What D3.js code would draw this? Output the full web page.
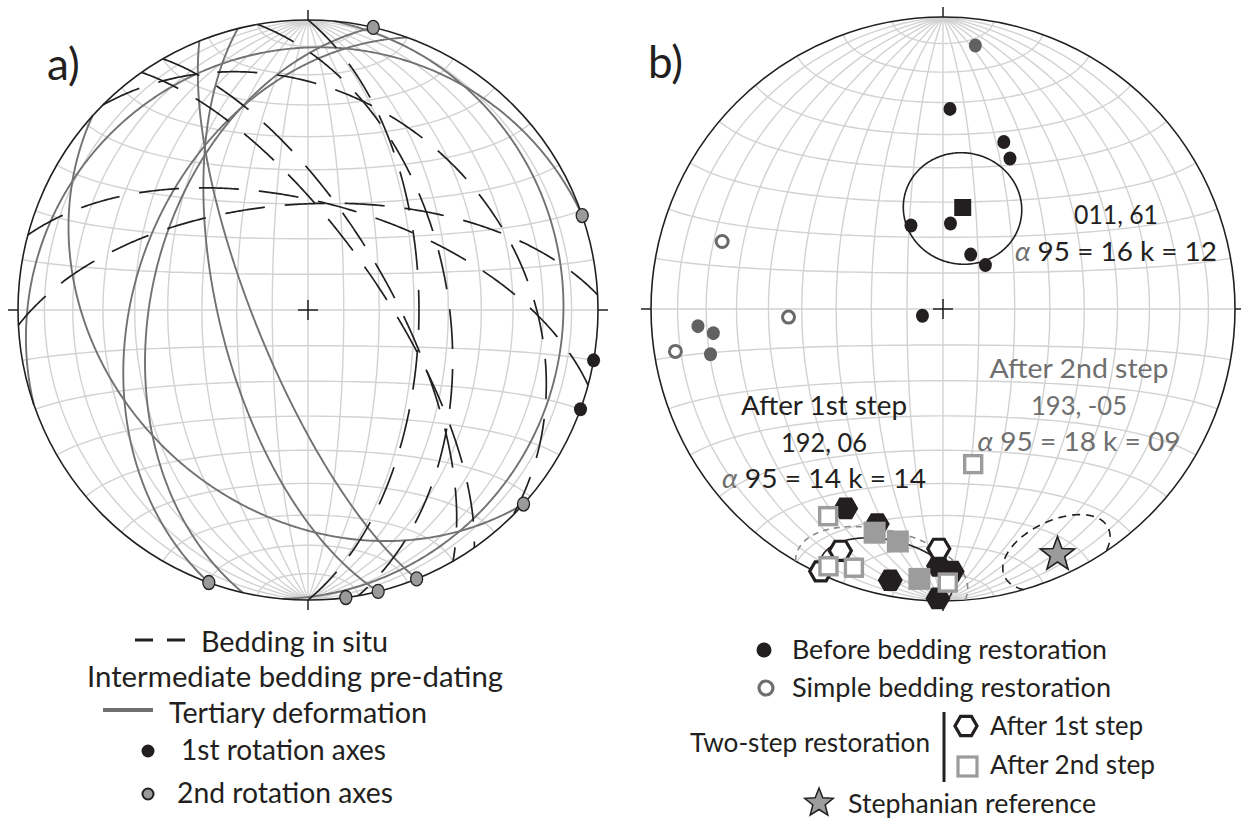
<!DOCTYPE html>
<html><head><meta charset="utf-8">
<script src="https://cdn.jsdelivr.net/npm/d3@7"></script>
<style>body{margin:0;background:#fff} svg{display:block} text{font-family:Lato,"Open Sans",sans-serif;fill:#231f20}</style>
</head><body>
<svg id="c" width="1241" height="818"></svg>
<script>
// ================= DATA =================
// Panel a — bedding in situ (dip direction, dip)
const beddingDipDir = [55, 60, 45, 15, 357, 90, 80];
const beddingDip    = [70, 67, 30, 59.5, 60, 58.6, 50];
// Panel a — intermediate bedding pre-dating Tertiary deformation (dip direction, dip)
const interDipDir = [341, 222, 290, 283, 256, 248, 95];
const interDip    = [11, 32, 40, 45, 65, 75, 13];
// Panel a — rotation axes (trend, horizontal)
const rot1Trend = [100, 110];
const rot2Trend = [13, 71, 132, 158, 166, 172.5, 200];

// Panel b — ChRM directions (declination, inclination)
const beforeDec = [2, 20, 24, 5, 339, 27, 44, 252];
const beforeInc = [32, 39, 43, 66, 65, 73, 73, 84];
const simpleDec = [7, 266, 264, 259, 287, 267, 261];
const simpleInc = [10, 17, 22, 20, -22, -46, -8];
const step1Dec = [206, 197, 191, 181, 178, 181, 203, 205, 181];
const step1Inc = [25, 24, 6, 13, 11, 1, -11, -1, -19];
const step2Dec = [197, 191, 185, 209, 204, 199, 179, 169];
const step2Inc = [21, 20, 8, -20, -4, -7, -7, -45];
// Means: [dec, inc, alpha95]
const meanBefore = [11, 61, 16];
const meanStep1  = [192, 6, 14];
const meanStep2  = [193, -5, 18];
const stephanian = [155, 8, 12];

// Legend labels
const legendA = ["Bedding in situ", "Intermediate bedding pre-dating", "Tertiary deformation", "1st rotation axes", "2nd rotation axes"];
const legendB = ["Before bedding restoration", "Simple bedding restoration", "Two-step restoration", "After 1st step", "After 2nd step", "Stephanian reference"];

// ================= HELPERS =================
const svg = d3.select("#c");
const rad = Math.PI / 180, deg = 180 / Math.PI;
function vecToGeo(e, n, d) {
  return [Math.atan2(e, d) * deg, Math.asin(Math.max(-1, Math.min(1, n))) * deg];
}
function dirGeo(trend, plunge) {
  const t = trend * rad, p = Math.abs(plunge) * rad;
  return vecToGeo(Math.cos(p) * Math.sin(t), Math.cos(p) * Math.cos(t), Math.sin(p));
}
function planeLine(dd, dip) {
  const sT = (dd - 90) * rad, dT = dd * rad, dp = dip * rad;
  const s = [Math.sin(sT), Math.cos(sT), 0];
  const dv = [Math.cos(dp) * Math.sin(dT), Math.cos(dp) * Math.cos(dT), Math.sin(dp)];
  const pts = [];
  for (let a = 0; a <= 180; a += 0.5) {
    const c = Math.cos(a * rad), sn = Math.sin(a * rad);
    pts.push(vecToGeo(c * s[0] + sn * dv[0], c * s[1] + sn * dv[1], c * s[2] + sn * dv[2]));
  }
  return {type: "LineString", coordinates: pts};
}
function coneLine(dec, inc, a95) {
  const ring = d3.geoCircle().center(dirGeo(dec, inc)).radius(a95).precision(1)().coordinates[0];
  return {type: "LineString", coordinates: ring};
}
function makeNet(g, cx, cy, R) {
  const projClip = d3.geoAzimuthalEqualArea().scale(R / Math.SQRT2).translate([cx, cy]).rotate([0, 0]).clipAngle(90).precision(0.1);
  const proj = d3.geoAzimuthalEqualArea().scale(R / Math.SQRT2).translate([cx, cy]).rotate([0, 0]).precision(0.1);
  const grat = d3.geoGraticule().extent([[-180, -90], [180, 90]]).step([10, 10]);
  g.append("path").datum(grat()).attr("d", d3.geoPath(projClip))
    .attr("fill", "none").attr("stroke", "#d2d2d2").attr("stroke-width", 1.4);
  return {projClip, proj, pathClip: d3.geoPath(projClip), path: d3.geoPath(proj), cx, cy, R};
}
function frame(g, net) {
  const {cx, cy, R} = net;
  g.append("circle").attr("cx", cx).attr("cy", cy).attr("r", R)
    .attr("fill", "none").attr("stroke", "#231f20").attr("stroke-width", 1.6);
  const t = 10;
  const segs = [[cx - 10, cy, cx + 10, cy], [cx, cy - 10, cx, cy + 10],
    [cx, cy - R - t, cx, cy - R], [cx, cy + R, cx, cy + R + t],
    [cx - R - t, cy, cx - R, cy], [cx + R, cy, cx + R + t, cy]];
  g.selectAll(null).data(segs).enter().append("line")
    .attr("x1", d => d[0]).attr("y1", d => d[1]).attr("x2", d => d[2]).attr("y2", d => d[3])
    .attr("stroke", "#231f20").attr("stroke-width", 1.5);
}
function hexPath(r) {
  return d3.range(6).map(i => [r * Math.cos(i * Math.PI / 3), r * Math.sin(i * Math.PI / 3)])
    .map((p, i) => (i ? "L" : "M") + p[0].toFixed(2) + "," + p[1].toFixed(2)).join("") + "Z";
}
function starPath(ro, ri) {
  return d3.range(10).map(i => {
    const r = i % 2 ? ri : ro, a = -Math.PI / 2 + i * Math.PI / 5;
    return [r * Math.cos(a), r * Math.sin(a)];
  }).map((p, i) => (i ? "L" : "M") + p[0].toFixed(2) + "," + p[1].toFixed(2)).join("") + "Z";
}
function txt(g, x, y, s, size, len, anchor) {
  const t = g.append("text").attr("x", x).attr("y", y).attr("font-size", size).text(s);
  if (anchor) t.attr("text-anchor", anchor);
  if (len) t.attr("textLength", len).attr("lengthAdjust", "spacingAndGlyphs");
  return t;
}

// ================= PANEL A =================
const gA = svg.append("g");
const netA = makeNet(gA, 308, 310, 290);
interDipDir.forEach((dd, i) => {
  gA.append("path").datum(planeLine(dd, interDip[i])).attr("d", netA.path)
    .attr("fill", "none").attr("stroke", "#727272").attr("stroke-width", 1.9);
});
beddingDipDir.forEach((dd, i) => {
  gA.append("path").datum(planeLine(dd, beddingDip[i])).attr("d", netA.path)
    .attr("fill", "none").attr("stroke", "#231f20").attr("stroke-width", 1.7)
    .attr("stroke-dasharray", "40,20");
});
frame(gA, netA);
rot2Trend.forEach(t => {
  const p = netA.proj(dirGeo(t, 0));
  gA.append("ellipse").attr("cx", p[0]).attr("cy", p[1]).attr("rx", 6).attr("ry", 7)
    .attr("fill", "#9a9a9a").attr("stroke", "#231f20").attr("stroke-width", 1.3);
});
rot1Trend.forEach(t => {
  const p = netA.proj(dirGeo(t, 0));
  gA.append("ellipse").attr("cx", p[0]).attr("cy", p[1]).attr("rx", 6.5).attr("ry", 7)
    .attr("fill", "#231f20");
});
txt(svg, 47, 80, "a)", 44);

// ================= PANEL B =================
const gB = svg.append("g");
const netB = makeNet(gB, 943, 309, 292);
frame(gB, netB);

function statLabel(x, y, lines, color) {
  lines.forEach((ln, i) => {
    const tx = gB.append("text").attr("x", x).attr("y", y + i * 36.5).attr("font-size", 27.5)
      .attr("text-anchor", "middle").style("fill", color)
      .attr("textLength", ln.len).attr("lengthAdjust", "spacingAndGlyphs");
    if (ln.alpha) {
      tx.append("tspan").attr("font-style", "italic").style("fill", "#6f6f6f").text("α");
      tx.append("tspan").text(" " + ln.text);
    } else tx.text(ln.text);
  });
}
statLabel(1116, 224, [{text: "011, 61", len: 84}, {alpha: true, text: "95 = 16 k = 12", len: 202}], "#231f20");
statLabel(824, 415, [{text: "After 1st step", len: 166}, {text: "192, 06", len: 86}, {alpha: true, text: "95 = 14 k = 14", len: 204}], "#231f20");
statLabel(1079, 378, [{text: "After 2nd step", len: 179}, {text: "193, -05", len: 96}, {alpha: true, text: "95 = 18 k = 09", len: 203}], "#6f6f6f");

// confidence cones
gB.append("path").datum(coneLine(...meanBefore)).attr("d", netB.pathClip)
  .attr("fill", "none").attr("stroke", "#231f20").attr("stroke-width", 1.6);
gB.append("path").datum(coneLine(...meanStep1)).attr("d", netB.pathClip)
  .attr("fill", "none").attr("stroke", "#231f20").attr("stroke-width", 1.6);
gB.append("path").datum(coneLine(...meanStep2)).attr("d", netB.pathClip)
  .attr("fill", "none").attr("stroke", "#8a8a8a").attr("stroke-width", 1.6).attr("stroke-dasharray", "6,5");
gB.append("path").datum(coneLine(...stephanian)).attr("d", netB.pathClip)
  .attr("fill", "none").attr("stroke", "#231f20").attr("stroke-width", 1.6).attr("stroke-dasharray", "8,6");

// before bedding restoration
beforeDec.forEach((d, i) => {
  const p = netB.proj(dirGeo(d, beforeInc[i]));
  gB.append("ellipse").attr("cx", p[0]).attr("cy", p[1]).attr("rx", 6.5).attr("ry", 7).attr("fill", "#231f20");
});
{
  const p = netB.proj(dirGeo(meanBefore[0], meanBefore[1]));
  gB.append("rect").attr("x", p[0] - 8.5).attr("y", p[1] - 8.5).attr("width", 17).attr("height", 17).attr("fill", "#231f20");
}
// simple restoration
simpleDec.forEach((d, i) => {
  const p = netB.proj(dirGeo(d, simpleInc[i]));
  if (simpleInc[i] >= 0)
    gB.append("ellipse").attr("cx", p[0]).attr("cy", p[1]).attr("rx", 6.5).attr("ry", 7).attr("fill", "#616161");
  else
    gB.append("circle").attr("cx", p[0]).attr("cy", p[1]).attr("r", 6).attr("fill", "#fff")
      .attr("stroke", "#6a6a6a").attr("stroke-width", 3);
});
// after 1st step (hexagons)
step1Dec.forEach((d, i) => {
  const p = netB.proj(dirGeo(d, step1Inc[i]));
  const h = gB.append("path").attr("d", hexPath(step1Inc[i] >= 0 ? 12.5 : 11)).attr("transform", `translate(${p[0]},${p[1]})`);
  if (step1Inc[i] >= 0) h.attr("fill", "#231f20");
  else h.attr("fill", "#fff").attr("stroke", "#231f20").attr("stroke-width", 3.2);
});
// after 2nd step (squares)
step2Dec.forEach((d, i) => {
  const p = netB.proj(dirGeo(d, step2Inc[i]));
  if (step2Inc[i] >= 0)
    gB.append("rect").attr("x", p[0] - 11).attr("y", p[1] - 11).attr("width", 22).attr("height", 22).attr("fill", "#9c9c9c");
  else
    gB.append("rect").attr("x", p[0] - 8.5).attr("y", p[1] - 8.5).attr("width", 17).attr("height", 17)
      .attr("fill", "#fff").attr("stroke", "#9c9c9c").attr("stroke-width", 3.4);
});
{
  const p = netB.proj(dirGeo(stephanian[0], stephanian[1]));
  gB.append("path").attr("d", starPath(18, 7.5)).attr("transform", `translate(${p[0]},${p[1]})`)
    .attr("fill", "#9c9c9c").attr("stroke", "#231f20").attr("stroke-width", 1.6);
}
txt(svg, 648, 78, "b)", 44);

// ================= LEGENDS =================
const L = svg.append("g");
L.append("line").attr("x1", 135).attr("x2", 185).attr("y1", 640).attr("y2", 640)
  .attr("stroke", "#231f20").attr("stroke-width", 2.8).attr("stroke-dasharray", "18,14");
txt(L, 201, 652, legendA[0], 28, 187);
txt(L, 87, 687, legendA[1], 28, 416);
L.append("line").attr("x1", 103).attr("x2", 153).attr("y1", 710).attr("y2", 710)
  .attr("stroke", "#6f6f6f").attr("stroke-width", 4);
txt(L, 169, 723, legendA[2], 28, 258);
L.append("circle").attr("cx", 148).attr("cy", 751).attr("r", 6.5).attr("fill", "#231f20");
txt(L, 181, 760, legendA[3], 28, 205);
L.append("circle").attr("cx", 148).attr("cy", 794).attr("r", 5.5).attr("fill", "#9a9a9a")
  .attr("stroke", "#231f20").attr("stroke-width", 2);
txt(L, 177, 803, legendA[4], 28, 216);

L.append("circle").attr("cx", 764).attr("cy", 650).attr("r", 7.5).attr("fill", "#231f20");
txt(L, 792, 659, legendB[0], 26.5, 315);
L.append("circle").attr("cx", 766).attr("cy", 688).attr("r", 7).attr("fill", "#fff")
  .attr("stroke", "#6f6f6f").attr("stroke-width", 3.2);
txt(L, 792, 697, legendB[1], 26.5, 319);
txt(L, 690, 752, legendB[2], 26.5, 240);
L.append("line").attr("x1", 944).attr("x2", 944).attr("y1", 712).attr("y2", 782)
  .attr("stroke", "#231f20").attr("stroke-width", 3);
L.append("path").attr("d", hexPath(11)).attr("transform", "translate(966,726)")
  .attr("fill", "#fff").attr("stroke", "#231f20").attr("stroke-width", 3.2);
txt(L, 990, 735, legendB[3], 26.5, 153);
L.append("rect").attr("x", 958).attr("y", 757).attr("width", 19).attr("height", 19)
  .attr("fill", "#fff").attr("stroke", "#9c9c9c").attr("stroke-width", 3.2);
txt(L, 990, 774, legendB[4], 26.5, 165);
L.append("path").attr("d", starPath(15, 6.5)).attr("transform", "translate(819,803)")
  .attr("fill", "#9c9c9c").attr("stroke", "#231f20").attr("stroke-width", 1.5);
txt(L, 848, 813, legendB[5], 26.5, 248);
</script>
</body></html>
